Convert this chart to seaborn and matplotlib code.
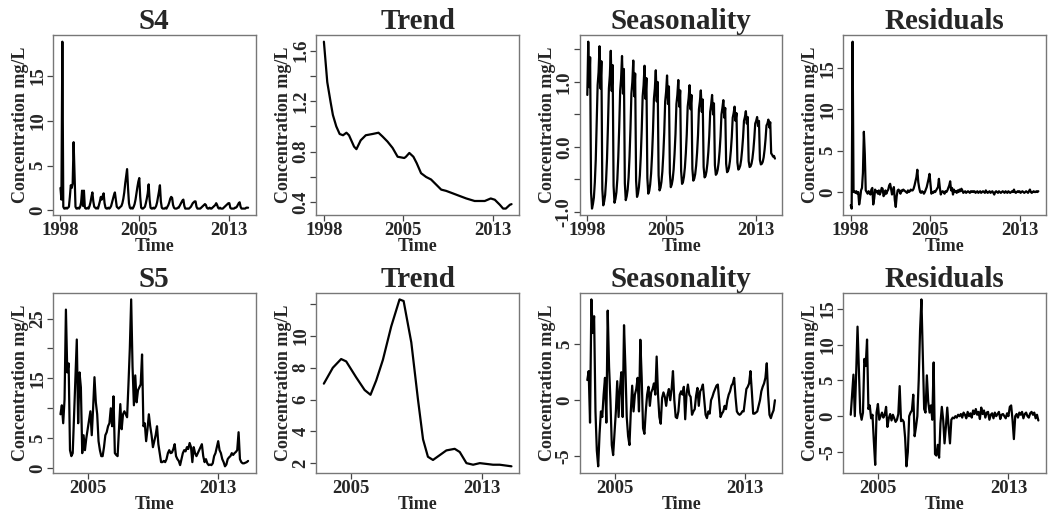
import numpy as np
import matplotlib
matplotlib.use("Agg")
import matplotlib.pyplot as plt
import seaborn as sns

# ---------------- DATA ----------------
# Top row: site S4, monthly from Jan 1998
s4_start = 1998.0
s4_observed = [
    2.5, 1.2, 18.8, 0.4, 0.2, 0.2, 0.3, 0.2, 0.3, 0.4, 1.5, 2.8,   # 1998
    2.5, 3.0, 7.6, 4.0, 0.4, 0.2, 0.2, 0.3, 0.2, 0.4, 0.9, 2.2,    # 1999
    0.5, 2.2, 0.3, 0.2, 0.2, 0.3, 0.2, 0.5, 0.9, 1.5, 2.0, 1.0,    # 2000
    0.4, 0.3, 0.2, 0.3, 0.2, 0.6, 1.0, 1.5, 1.2, 1.6, 1.9, 0.8,    # 2001
    0.3, 0.2, 0.2, 0.3, 0.2, 0.3, 0.5, 0.9, 1.3, 1.7, 2.0, 1.2,    # 2002
    0.4, 0.3, 0.2, 0.3, 0.4, 0.5, 0.8, 1.3, 2.0, 3.0, 3.8, 4.6,    # 2003
    2.5, 0.8, 0.3, 0.2, 0.3, 0.2, 0.4, 0.7, 1.2, 1.9, 2.6, 3.2,    # 2004
    3.6, 1.5, 0.3, 0.2, 0.2, 0.3, 0.4, 0.8, 1.3, 1.9, 2.9, 1.2,    # 2005
    0.3, 0.2, 0.2, 0.3, 0.2, 0.3, 0.5, 0.9, 1.5, 2.1, 2.8, 1.0,    # 2006
    0.3, 0.2, 0.2, 0.2, 0.3, 0.2, 0.4, 0.6, 0.9, 1.3, 1.5, 1.4,    # 2007
    0.6, 0.3, 0.2, 0.2, 0.2, 0.3, 0.3, 0.5, 0.7, 0.9, 1.1, 1.2,    # 2008
    0.5, 0.2, 0.2, 0.2, 0.2, 0.2, 0.3, 0.4, 0.6, 0.8, 0.9, 1.0,    # 2009
    1.0, 0.4, 0.2, 0.2, 0.2, 0.2, 0.3, 0.4, 0.5, 0.6, 0.7, 0.6,    # 2010
    0.3, 0.2, 0.2, 0.3, 0.2, 0.2, 0.3, 0.4, 0.5, 0.6, 0.8, 0.6,    # 2011
    0.3, 0.2, 0.3, 0.2, 0.2, 0.2, 0.3, 0.4, 0.5, 0.6, 0.7, 0.8,    # 2012
    0.8, 0.3, 0.2, 0.2, 0.2, 0.2, 0.3, 0.3, 0.4, 0.6, 0.8, 0.9,    # 2013
    0.4, 0.2, 0.2, 0.2, 0.2, 0.2, 0.3, 0.3, 0.3,                   # 2014
]
s4_trend_time = [1998.0, 1998.3, 1998.6, 1998.8, 1999.1, 1999.4, 1999.7, 2000.0,
                 2000.23, 2000.68, 2000.89, 2001.27, 2001.72, 2002.32, 2002.85,
                 2003.21, 2003.65, 2004.1, 2004.55, 2005.14, 2005.29, 2005.59,
                 2005.95, 2006.24, 2006.63, 2007.08, 2007.52, 2007.97, 2008.42,
                 2008.86, 2009.46, 2010.05, 2010.65, 2011.39, 2012.29, 2012.82,
                 2013.18, 2013.63, 2013.92, 2014.16, 2014.52, 2014.67]
s4_trend = [1.67, 1.35, 1.19, 1.09, 1.00, 0.94, 0.93, 0.95,
            0.93, 0.84, 0.82, 0.89, 0.93, 0.94, 0.95,
            0.92, 0.88, 0.83, 0.76, 0.75, 0.76, 0.79,
            0.76, 0.71, 0.63, 0.60, 0.58, 0.54, 0.50,
            0.49, 0.47, 0.45, 0.43, 0.41, 0.41, 0.43,
            0.42, 0.38, 0.35, 0.35, 0.38, 0.385]
s4_season = [
    0.80, 1.62, 0.92, 1.38, -0.70, -0.95, -0.88, -0.78, -0.55, -0.20, 0.35, 0.95,
    1.15, 1.55, 0.90, 1.32, -0.65, -0.90, -0.84, -0.74, -0.52, -0.18, 0.32, 0.90,
    1.10, 1.48, 0.86, 1.26, -0.60, -0.86, -0.80, -0.70, -0.50, -0.16, 0.30, 0.86,
    1.05, 1.40, 0.82, 1.20, -0.56, -0.82, -0.76, -0.66, -0.47, -0.15, 0.28, 0.82,
    1.00, 1.33, 0.78, 1.13, -0.52, -0.77, -0.72, -0.62, -0.44, -0.14, 0.26, 0.78,
    0.95, 1.25, 0.74, 1.06, -0.48, -0.72, -0.68, -0.58, -0.41, -0.13, 0.24, 0.74,
    0.90, 1.18, 0.70, 1.00, -0.44, -0.67, -0.63, -0.54, -0.38, -0.12, 0.22, 0.70,
    0.85, 1.10, 0.66, 0.93, -0.40, -0.62, -0.58, -0.50, -0.35, -0.11, 0.20, 0.66,
    0.80, 1.03, 0.62, 0.87, -0.37, -0.57, -0.54, -0.46, -0.32, -0.10, 0.19, 0.62,
    0.75, 0.95, 0.58, 0.80, -0.34, -0.52, -0.49, -0.42, -0.29, -0.09, 0.18, 0.58,
    0.70, 0.87, 0.54, 0.73, -0.31, -0.47, -0.45, -0.38, -0.26, -0.08, 0.17, 0.54,
    0.65, 0.80, 0.50, 0.67, -0.28, -0.43, -0.41, -0.35, -0.24, -0.07, 0.16, 0.50,
    0.60, 0.72, 0.45, 0.60, -0.26, -0.39, -0.37, -0.32, -0.22, -0.06, 0.15, 0.45,
    0.52, 0.62, 0.40, 0.52, -0.24, -0.35, -0.33, -0.29, -0.20, -0.05, 0.14, 0.40,
    0.46, 0.55, 0.36, 0.46, -0.22, -0.31, -0.30, -0.26, -0.18, -0.05, 0.13, 0.36,
    0.40, 0.46, 0.32, 0.40, -0.20, -0.27, -0.26, -0.23, -0.16, -0.04, 0.12, 0.33,
    0.36, 0.42, 0.30, 0.38, -0.10, -0.12, -0.15, -0.14, -0.18,
]
s4_resid = [
    -1.6, -2.0, 18.2, 0.0, 0.1, -0.1, 0.1, -0.2, 0.0, -1.5, -0.8, 0.2,
    0.5, 2.3, 7.3, 4.6, 0.2, 0.0, -0.2, 0.1, 0.0, -0.3, 0.3, 0.5,
    -1.5, -0.8, 0.3, 0.0, 0.1, -0.2, 0.2, -0.3, 0.0, 0.5, 0.4, -0.5,
    -0.3, 0.2, -0.2, 0.1, 0.3, 0.8, 1.0, 0.4, -0.3, 0.1, 0.6, -1.0,
    -1.8, -0.5, 0.2, 0.3, 0.1, -0.2, 0.2, 0.1, 0.3, 0.2, 0.1, 0.0,
    -0.1, 0.2, 0.0, 0.1, 0.3, 0.2, 0.2, 0.4, 0.8, 1.3, 1.8, 2.7,
    1.2, 0.5, 0.0, -0.1, 0.1, 0.0, -0.2, 0.0, 0.3, 0.6, 1.1, 1.6,
    2.2, 1.0, -0.2, 0.0, -0.1, 0.1, 0.0, 0.2, 0.4, 0.6, 1.6, 0.5,
    -0.3, 0.0, 0.1, 0.0, -0.2, 0.1, 0.0, 0.2, 0.5, 0.8, 1.3, 0.2,
    0.5, -0.3, 0.3, 0.0, 0.1, -0.1, 0.2, 0.0, 0.3, 0.1, 0.4, 0.2,
    -0.1, 0.0, 0.1, -0.1, 0.0, 0.1, 0.0, -0.1, 0.1, 0.0, 0.1, 0.0,
    0.1, -0.1, 0.0, 0.1, -0.1, 0.0, 0.1, -0.1, 0.0, 0.1, 0.0, -0.1,
    0.2, 0.0, -0.1, 0.0, 0.1, -0.1, 0.0, 0.1, -0.1, -0.3, 0.0, 0.1,
    0.0, -0.1, 0.1, 0.0, -0.1, 0.0, 0.1, 0.0, -0.1, 0.1, 0.0, -0.1,
    0.1, 0.0, -0.1, 0.0, 0.1, 0.0, 0.3, 0.0, -0.1, 0.0, 0.1, 0.0,
    0.1, -0.1, 0.0, 0.1, 0.0, -0.1, 0.0, 0.1, 0.0, -0.1, 0.1, 0.3,
    0.0, -0.1, 0.0, 0.1, 0.0, 0.0, 0.1, 0.0, 0.1,
]

# Bottom row: site S5, monthly from May 2003
s5_start = 2003 + 4 / 12
s5_observed = [
    9.0, 10.5, 7.5, 11.5, 26.5, 16.0, 17.5, 3.0,                       # 2003
    2.0, 2.5, 9.0, 15.0, 21.5, 7.5, 16.0, 13.5, 2.5, 5.5, 3.0, 5.0,     # 2004
    6.5, 8.0, 9.5, 5.5, 10.0, 15.2, 11.0, 9.0, 4.5, 3.0, 2.0, 2.0,      # 2005
    3.5, 5.5, 6.0, 7.0, 7.5, 10.0, 7.0, 12.0, 2.5, 2.2, 2.0, 6.5,       # 2006
    10.7, 6.5, 9.0, 9.5, 9.0, 8.5, 14.0, 20.0, 28.2, 17.0, 10.5, 15.5,  # 2007
    11.0, 13.0, 13.5, 14.0, 19.0, 7.0, 7.5, 4.5, 6.5, 9.0, 7.0, 5.5,    # 2008
    3.5, 4.5, 5.5, 7.0, 4.0, 2.5, 1.0, 1.0, 1.2, 1.0, 1.5, 2.5,         # 2009
    3.0, 2.5, 2.6, 3.2, 4.0, 2.0, 1.5, 1.2, 0.5, 1.5, 2.5, 3.0,         # 2010
    2.8, 3.5, 3.2, 4.2, 3.5, 1.0, 3.5, 2.5, 2.0, 2.5, 3.0, 3.5,         # 2011
    4.0, 2.0, 1.0, 1.5, 0.8, 0.5, 0.6, 0.5, 0.8, 2.0, 2.5, 3.5,         # 2012
    4.5, 3.0, 2.5, 1.5, 1.0, 0.3, 0.6, 1.5, 1.8, 2.0, 2.5, 2.2,         # 2013
    2.5, 2.7, 3.0, 6.0, 1.5, 1.0, 0.8, 0.8, 0.9, 1.0, 1.2,              # 2014
]
s5_trend_time = [2003.33, 2003.88, 2004.39, 2004.70, 2005.31, 2005.83, 2006.19,
                 2006.54, 2006.95, 2007.46, 2007.97, 2008.22, 2008.69, 2009.10,
                 2009.41, 2009.71, 2010.02, 2010.43, 2010.84, 2011.35, 2011.66,
                 2012.07, 2012.48, 2012.89, 2013.30, 2013.70, 2014.11, 2014.83]
s5_trend = [7.0, 8.0, 8.55, 8.4, 7.4, 6.6, 6.3,
            7.2, 8.5, 10.6, 12.3, 12.2, 9.6, 6.0,
            3.5, 2.4, 2.2, 2.5, 2.8, 2.9, 2.7,
            2.0, 1.9, 2.0, 1.95, 1.9, 1.9, 1.8]
s5_season = [
    1.8, 2.6, -2.0, 9.0, 6.0, 7.5, -1.0, -4.5,
    -5.9, -3.0, -1.0, -1.5, 0.5, 2.0, -2.0, 8.0, 3.0, 0.0, -4.0, -4.9,
    -3.0, -1.0, 1.7, -1.5, 1.0, 2.5, -1.5, 6.7, 3.0, -1.5, -3.2, -4.0,
    -1.0, 1.3, -1.0, 0.5, 1.0, 2.0, -1.0, 5.4, 2.0, -2.5, -3.0, -1.0,
    0.5, 1.2, -0.5, 0.7, 1.0, 1.5, 0.5, 3.9, 0.5, -1.5, -2.1, 0.2,
    0.7, 0.3, -0.5, 0.5, 1.0, 0.0, 1.0, 2.6, 0.0, -1.5, -1.6, -1.0,
    0.5, 0.8, 0.5, 1.2, -1.7, 0.6, 1.4, 0.5, 0.3, -1.3, -1.0, -0.8,
    0.4, 1.1, -0.5, 0.8, 1.0, 1.4, 0.0, -1.3, -1.6, -1.0, -1.2, 0.0,
    0.3, 0.7, 1.0, 1.3, 1.4, 0.0, -1.5, -1.2, -1.0, -0.5, -0.8, 0.0,
    0.5, 0.8, 1.3, 1.5, 2.0, 0.3, -1.0, -1.2, -1.3, -1.2, -1.0, -1.0,
    0.0, 1.0, 1.2, 1.5, 2.6, 0.8, -1.2, -1.2, -1.1, -1.0, -0.5, 0.0,
    0.8, 1.2, 1.5, 2.0, 3.3, 0.5, -1.3, -1.6, -1.2, -0.9, 0.0,
]
s5_resid = [
    0.2, 3.0, 5.8, 0.0, 6.0, 12.5, 6.5, 0.5,
    -0.5, 0.5, 8.0, 7.0, 10.7, 1.0, 1.5, -0.3, 0.2, -3.5, -6.8, 0.5,
    1.7, -0.5, 0.0, 0.5, -0.2, 0.2, 1.3, -1.5, -0.3, 0.3, -0.6, 0.2,
    -0.3, -0.8, -0.5, 0.3, 4.2, -0.7, -0.5, -0.8, -3.0, -7.0, -5.0, 0.0,
    0.5, 0.8, 3.0, -2.8, -1.5, 0.0, 5.0, 12.0, 16.3, 8.5, 1.0, 0.5,
    5.7, 2.0, 0.5, 1.5, -0.5, 7.5, -5.3, -5.5, -4.0, -5.8, -1.0, 1.3,
    -0.5, -3.8, -1.5, 1.2, -1.5, -3.8, -0.5, -0.2, -0.3, 0.0, -0.2, 0.2,
    0.0, 0.3, -0.2, 0.5, 0.2, -0.3, 0.6, 0.0, 0.4, -0.2, 0.8, 0.3,
    1.0, 0.2, 0.6, -0.4, 1.2, 0.3, 0.8, -0.2, 0.5, 0.6, -0.5, 0.2,
    0.4, -0.3, 0.5, 0.0, 0.3, 0.6, -0.4, 0.2, 0.3, 0.0, -0.3, 0.4,
    0.0, 1.3, 1.5, -0.5, -3.2, 0.0, 0.3, -0.2, 0.5, 0.2, 0.6, -0.3,
    0.3, 0.5, 0.0, -0.2, 0.4, 0.6, 0.2, 0.5, -0.3, 0.2, -0.6,
]

titles_top = ["S4", "Trend", "Seasonality", "Residuals"]
titles_bottom = ["S5", "Trend", "Seasonality", "Residuals"]
xticks_top = [1998, 2005, 2013]
xticks_bottom = [2005, 2013]
yticks_top = [
    ([0, 5, 10, 15], ["0", "5", "10", "15"]),
    ([0.4, 0.6, 0.8, 1.0, 1.2, 1.4, 1.6], ["0.4", "", "0.8", "", "1.2", "", "1.6"]),
    ([-1.0, -0.5, 0.0, 0.5, 1.0, 1.5], ["-1.0", "", "0.0", "", "1.0", ""]),
    ([0, 5, 10, 15], ["0", "5", "10", "15"]),
]
yticks_bottom = [
    ([0, 5, 10, 15, 20, 25], ["0", "5", "", "15", "", "25"]),
    ([2, 4, 6, 8, 10, 12], ["2", "4", "6", "8", "10", ""]),
    ([-5, 0, 5], ["-5", "0", "5"]),
    ([-5, 0, 5, 10, 15], ["-5", "0", "5", "10", "15"]),
]

# ---------------- PLOT ----------------
sns.set_theme(style="ticks")
plt.rcParams["font.family"] = ["Liberation Serif", "DejaVu Serif"]
plt.rcParams["font.weight"] = "bold"
plt.rcParams["axes.xmargin"] = 0.04
plt.rcParams["axes.ymargin"] = 0.04

fig, axes = plt.subplots(2, 4, figsize=(10.49, 5.12), dpi=100)
fig.patch.set_facecolor("white")
fig.subplots_adjust(left=0.0505, right=0.997, top=0.9316, bottom=0.0762,
                    wspace=0.30, hspace=0.43)

t_top = s4_start + np.arange(len(s4_observed)) / 12.0
t_bot = s5_start + np.arange(len(s5_observed)) / 12.0

top_series = [(t_top, s4_observed), (s4_trend_time, s4_trend),
              (s4_start + np.arange(len(s4_season)) / 12.0, s4_season),
              (s4_start + np.arange(len(s4_resid)) / 12.0, s4_resid)]
bot_series = [(t_bot, s5_observed), (s5_trend_time, s5_trend),
              (s5_start + np.arange(len(s5_season)) / 12.0, s5_season),
              (s5_start + np.arange(len(s5_resid)) / 12.0, s5_resid)]

def style_axis(ax, title, xt, yt, xr):
    ax.set_title(title, fontsize=21, fontweight="bold", pad=4)
    ax.set_xlabel("Time", fontsize=13, fontweight="bold", labelpad=-1)
    ax.set_ylabel("Concentration mg/L", fontsize=13, fontweight="bold", labelpad=0)
    span = xr[1] - xr[0]
    ax.set_xlim(xr[0] - 0.04 * span, xr[1] + 0.04 * span)
    ax.set_xticks(xt)
    ax.set_xticklabels([str(v) for v in xt])
    ax.set_yticks(yt[0])
    ax.set_yticklabels(yt[1], rotation=90, va="center")
    ax.tick_params(axis="both", direction="out", length=4, width=0.9,
                   color="#444444", labelsize=13.5, pad=1)
    for lab in ax.get_xticklabels() + ax.get_yticklabels():
        lab.set_fontweight("bold")
    for sp in ax.spines.values():
        sp.set_visible(True)
        sp.set_color("#777777")
        sp.set_linewidth(1.0)
    ax.grid(False)

for j, (t, v) in enumerate(top_series):
    ax = axes[0, j]
    sns.lineplot(x=np.asarray(t), y=np.asarray(v), ax=ax, color="black",
                 linewidth=1.6, estimator=None, sort=False)
    style_axis(ax, titles_top[j], xticks_top, yticks_top[j], (t_top[0], t_top[-1]))

for j, (t, v) in enumerate(bot_series):
    ax = axes[1, j]
    sns.lineplot(x=np.asarray(t), y=np.asarray(v), ax=ax, color="black",
                 linewidth=1.6, estimator=None, sort=False)
    style_axis(ax, titles_bottom[j], xticks_bottom, yticks_bottom[j], (t_bot[0], t_bot[-1]))

fig.savefig("out.png", dpi=100, facecolor="white")
